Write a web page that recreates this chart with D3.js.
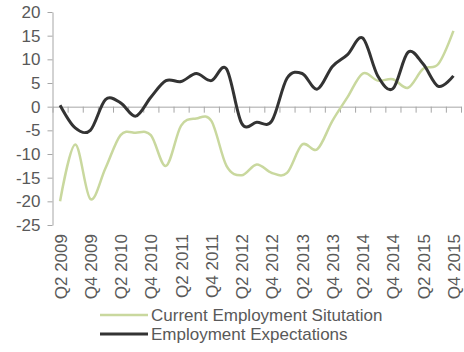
<!DOCTYPE html>
<html>
<head>
<meta charset="utf-8">
<script src="https://cdn.jsdelivr.net/npm/d3@7"></script>
<style>
  body { margin: 0; background: #fff; }
  text { font-family: "Liberation Sans", Arial, sans-serif; fill: #595959; }
  .axis path, .axis line { stroke: #a6a6a6; }
</style>
</head>
<body>
<svg id="chart" width="464" height="352"></svg>
<script>
// Quarters from Q2 2009 to Q4 2015
var quarters = ["Q2 2009","Q3 2009","Q4 2009",
  "Q1 2010","Q2 2010","Q3 2010","Q4 2010",
  "Q1 2011","Q2 2011","Q3 2011","Q4 2011",
  "Q1 2012","Q2 2012","Q3 2012","Q4 2012",
  "Q1 2013","Q2 2013","Q3 2013","Q4 2013",
  "Q1 2014","Q2 2014","Q3 2014","Q4 2014",
  "Q1 2015","Q2 2015","Q3 2015","Q4 2015"];

// Series values
var currentSituation = [-20, -8, -19.5, -13, -6, -5.5, -6,
  -12.5, -4, -2.5, -3, -12.5, -14.5, -12.2, -14, -14,
  -8, -9, -3, 2, 7, 5.5, 5.8, 4, 8, 9, 16];
var expectations = [0.3, -4.5, -5, 1.5, 0.8, -2, 2,
  5.5, 5.3, 7, 5.5, 8, -3.5, -3.3, -3, 6,
  7, 3.7, 8.5, 11, 14.5, 6.5, 3.8, 11.5, 9, 4.3, 6.5];

var yTicks = [-25, -20, -15, -10, -5, 0, 5, 10, 15, 20];
var xLabels = quarters.filter(function(d, i) { return i % 2 == 0; });
var seriesNames = ["Current Employment Situtation", "Employment Expectations"];

var svg = d3.select("#chart");

// Plot area
var plot = {left: 52.5, right: 461, top: 12, bottom: 225};

// Scales
var x = d3.scalePoint()
    .domain(quarters)
    .range([plot.left, plot.right])
    .padding(0.5);

var xb = d3.scaleLinear()
    .domain([0, quarters.length])
    .range([plot.left, plot.right]);

var y = d3.scaleLinear()
    .domain([-25, 20])
    .range([plot.bottom, plot.top]);

// Y axis on the left
svg.append("g")
    .attr("class", "axis")
    .attr("transform", "translate(" + plot.left + ",0)")
    .call(d3.axisLeft(y).tickValues(yTicks).tickSize(5).tickSizeOuter(0).tickPadding(7))
  .selectAll("text")
    .style("font-size", "17px")
    .text(function(d) { return d < 0 ? "-" + Math.abs(d) : d; });

// X axis line through zero with quarter ticks
svg.append("g")
    .attr("class", "axis")
    .attr("transform", "translate(0," + y(0) + ")")
    .call(d3.axisBottom(xb).tickValues(d3.range(quarters.length + 1)).tickFormat("").tickSize(6).tickSizeOuter(0));

// Rotated category labels at the bottom
var xLab = svg.append("g")
    .attr("transform", "translate(0," + (plot.bottom + 9) + ")")
    .call(d3.axisBottom(x).tickValues(xLabels).tickSize(0).tickPadding(0));
xLab.select(".domain").remove();
xLab.selectAll("text")
    .style("font-size", "17px")
    .attr("transform", "rotate(-90)")
    .attr("x", 0)
    .attr("y", 0)
    .attr("dy", "0.35em")
    .attr("text-anchor", "end");

// Lines
var line = d3.line()
    .x(function(d, i) { return x(quarters[i]); })
    .y(function(d) { return y(d); })
    .curve(d3.curveCardinal.tension(0));

svg.append("path")
    .attr("d", line(currentSituation))
    .attr("fill", "none")
    .attr("stroke", "#c9d89e")
    .attr("stroke-width", 2.5);

svg.append("path")
    .attr("d", line(expectations))
    .attr("fill", "none")
    .attr("stroke", "#333333")
    .attr("stroke-width", 3);

// Legend
var legendColors = ["#c9d89e", "#333333"];
var legendWidths = [2.5, 3];
var legend = svg.append("g")
    .selectAll("g")
    .data(seriesNames)
    .enter().append("g")
      .attr("transform", function(d, i) { return "translate(100," + (315 + i * 19) + ")"; });

legend.append("line")
    .attr("x1", 0)
    .attr("x2", 48)
    .attr("stroke", function(d, i) { return legendColors[i]; })
    .attr("stroke-width", function(d, i) { return legendWidths[i]; });

legend.append("text")
    .attr("x", 51)
    .attr("dy", "0.35em")
    .style("font-size", "17px")
    .text(function(d) { return d; });
</script>
</body>
</html>
